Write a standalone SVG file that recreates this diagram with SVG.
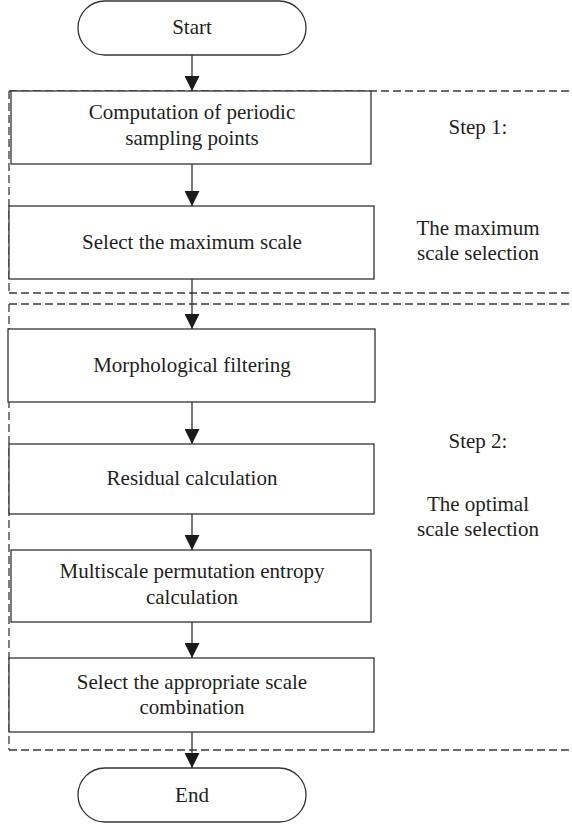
<svg xmlns="http://www.w3.org/2000/svg" width="572" height="827" viewBox="0 0 572 827">
<defs>
<style>
.box{fill:#fff;stroke:#333;stroke-width:1.3}
.dash{fill:none;stroke:#3a3a3a;stroke-width:1.3;stroke-dasharray:8 4}
.t{font-family:"Liberation Serif","Times New Roman",serif;font-size:21px;fill:#231f20;text-anchor:middle}
.c{stroke:#222;stroke-width:1.2;fill:none}
</style>
<marker id="ah" viewBox="0 0 15 15" refX="15" refY="7.5" markerWidth="15" markerHeight="15" markerUnits="userSpaceOnUse" orient="auto">
<path d="M0,0 L15,7.5 L0,15 Z" fill="#1a1a1a"/>
</marker>
</defs>
<rect width="572" height="827" fill="#fff"/>
<g id="regions">
<path class="dash" d="M9,91 V293 M9,91 H572 M9,293 H572"/>
<path class="dash" d="M9,304 V750 M9,304 H572 M9,750 H572"/>
</g>
<g id="connectors">
<line class="c" x1="192" y1="55" x2="192" y2="91" marker-end="url(#ah)"/>
<line class="c" x1="192" y1="164" x2="192" y2="206" marker-end="url(#ah)"/>
<line class="c" x1="192" y1="279" x2="192" y2="329" marker-end="url(#ah)"/>
<line class="c" x1="192" y1="402" x2="192" y2="444" marker-end="url(#ah)"/>
<line class="c" x1="192" y1="514" x2="192" y2="550" marker-end="url(#ah)"/>
<line class="c" x1="192" y1="622" x2="192" y2="658" marker-end="url(#ah)"/>
<line class="c" x1="192" y1="732" x2="192" y2="768" marker-end="url(#ah)"/>
</g>
<g id="start">
<rect class="box" x="78" y="1" width="228" height="54" rx="27" ry="27"/>
<text class="t" x="192" y="34">Start</text>
</g>
<g id="n1">
<rect class="box" x="11" y="91" width="360" height="73"/>
<text class="t" x="192" y="119">Computation of periodic</text>
<text class="t" x="192" y="145">sampling points</text>
</g>
<g id="n2">
<rect class="box" x="9" y="206" width="365" height="73"/>
<text class="t" x="192" y="249">Select the maximum scale</text>
</g>
<g id="n3">
<rect class="box" x="8" y="329" width="367" height="73"/>
<text class="t" x="192" y="372">Morphological filtering</text>
</g>
<g id="n4">
<rect class="box" x="9" y="444" width="365" height="70"/>
<text class="t" x="192" y="485">Residual calculation</text>
</g>
<g id="n5">
<rect class="box" x="11" y="550" width="360" height="72"/>
<text class="t" x="192" y="578">Multiscale permutation entropy</text>
<text class="t" x="192" y="604">calculation</text>
</g>
<g id="n6">
<rect class="box" x="9" y="658" width="365" height="74"/>
<text class="t" x="192" y="689">Select the appropriate scale</text>
<text class="t" x="192" y="714">combination</text>
</g>
<g id="end">
<rect class="box" x="78" y="768" width="228" height="54" rx="27" ry="27"/>
<text class="t" x="192" y="802">End</text>
</g>
<g id="labels">
<text class="t" x="478" y="134">Step 1:</text>
<text class="t" x="478" y="235">The maximum</text>
<text class="t" x="478" y="260">scale selection</text>
<text class="t" x="478" y="448">Step 2:</text>
<text class="t" x="478" y="511">The optimal</text>
<text class="t" x="478" y="536">scale selection</text>
</g>
</svg>
